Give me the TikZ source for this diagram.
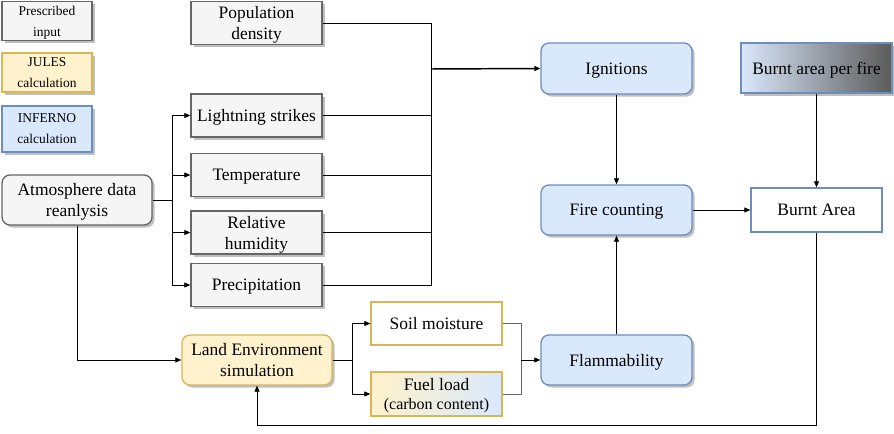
\documentclass[tikz,border=0pt]{standalone}
\usepackage{fontspec}
\setmainfont{Liberation Serif}
\usetikzlibrary{shadows,arrows.meta}
\definecolor{greyfill}{HTML}{F5F5F5}
\definecolor{greyline}{HTML}{666666}
\definecolor{julesfill}{HTML}{FFF2CC}
\definecolor{julesline}{HTML}{D6B656}
\definecolor{infernofill}{HTML}{DAE8FC}
\definecolor{infernoline}{HTML}{6C8EBF}
\definecolor{darkgrey}{HTML}{5A5A5A}

\begin{document}
\begin{tikzpicture}[x=0.75pt, y=-0.75pt, font=\fontsize{13.1}{15.75}\selectfont,
  box/.style={draw, line width=1pt, align=center, inner sep=0pt, text depth=0pt, minimum width=98.25pt, minimum height=32.25pt},
  shade/.style={drop shadow={shadow xshift=1.9pt, shadow yshift=-1.9pt, fill=black!25, opacity=1}},
  input/.style={box, draw=greyline, fill=greyfill, shade},
  jules/.style={box, draw=julesline, fill=julesfill, rounded corners=6pt, shade},
  inferno/.style={box, draw=infernoline, fill=infernofill, rounded corners=6pt, shade},
  legend/.style={minimum width=67.5pt, font=\fontsize{10.1}{15.75}\selectfont},
  arr/.style={-{Triangle[length=4.5pt,width=3.75pt]}, line width=0.6pt}]
\useasboundingbox (0,0) rectangle (894,434);

% legend
\node[input, legend, minimum height=29.25pt] (legin) at (47,21) {Prescribed\\input};
\node[jules, legend, rounded corners=0pt, minimum height=29.25pt] (legjules) at (47,72.5) {JULES\\calculation};
\node[inferno, legend, rounded corners=0pt, minimum height=34.5pt] (leginf) at (47,129) {INFERNO\\calculation};

% prescribed inputs
\node[input] (pop) at (256.5,23) {Population\\density};
\node[input] (light) at (256.5,115.5) {Lightning strikes};
\node[input] (temp) at (256.5,175) {Temperature};
\node[input] (hum) at (256.5,232.5) {Relative\\humidity};
\node[input] (prec) at (256.5,285) {Precipitation};
\node[input, rounded corners=6pt, minimum width=112.5pt, minimum height=37.5pt] (atm) at (77,200) {Atmosphere data\\reanlysis};

% JULES
\node[jules, minimum width=112.5pt, minimum height=37.5pt] (land) at (257,360) {Land Environment\\simulation};
\node[box, draw=julesline, fill=white] (soil) at (436.5,323.5) {Soil moisture};
\node[box, draw=julesline, left color=julesfill, right color=infernofill, minimum height=33pt] (fuel) at (436.5,394)
  {Fuel load\\[-1.5pt]{\fontsize{12}{13.5}\selectfont(carbon content)}};

% INFERNO
\node[inferno, minimum width=113.25pt, minimum height=38.25pt] (ign) at (616.5,68.5) {Ignitions};
\node[inferno, minimum width=113.25pt, minimum height=37.5pt] (fire) at (616.5,210) {Fire counting};
\node[inferno, minimum width=113.25pt, minimum height=37.5pt] (flam) at (616.5,360) {Flammability};
\node[box, draw=infernoline, left color=infernofill, right color=darkgrey, shade, minimum width=113.25pt, minimum height=37.5pt] (perfire) at (816.5,68) {Burnt area per fire};
\node[box, draw=infernoline, fill=white, minimum height=33pt] (burnt) at (816.5,210) {Burnt Area};

% inputs to ignitions
\coordinate (bus) at (431,69);
\draw[line width=0.6pt] (pop.east) -| (bus);
\draw[line width=0.6pt] (prec.east) -| (bus);
\draw[line width=0.6pt] (light.east) -- (light.east -| bus);
\draw[line width=0.6pt] (temp.east) -- (temp.east -| bus);
\draw[line width=0.6pt] (hum.east) -- (hum.east -| bus);
\draw[arr, line width=1.1pt] (bus) -- (ign.west);

% atmosphere to inputs
\coordinate (split) at (172,200);
\draw[line width=0.6pt] (atm.east) -- (split);
\draw[arr] (split) |- (light.west);
\draw[arr] (split) |- (temp.west);
\draw[arr] (split) |- (hum.west);
\draw[arr] (split) |- (prec.west);
\draw[arr] (atm.south) |- (land.west);

% land surface
\coordinate (fork) at (352,360);
\draw[line width=0.6pt] (land.east) -- (fork);
\draw[arr] (fork) |- (soil.west);
\draw[arr] (fork) |- (fuel.west);
\coordinate (join) at (521,360);
\draw[greyline, line width=0.6pt] (soil.east) -| (join);
\draw[greyline, line width=0.6pt] (fuel.east) -| (join);
\draw[arr] (join) -- (flam.west);

% fire model
\draw[arr] (ign) -- (fire);
\draw[arr] (flam) -- (fire);
\draw[arr] (fire) -- (burnt);
\draw[arr] (perfire) -- (burnt);
\draw[arr] (burnt.south) -- ++(0,193) -| (land.south);
\end{tikzpicture}
\end{document}
